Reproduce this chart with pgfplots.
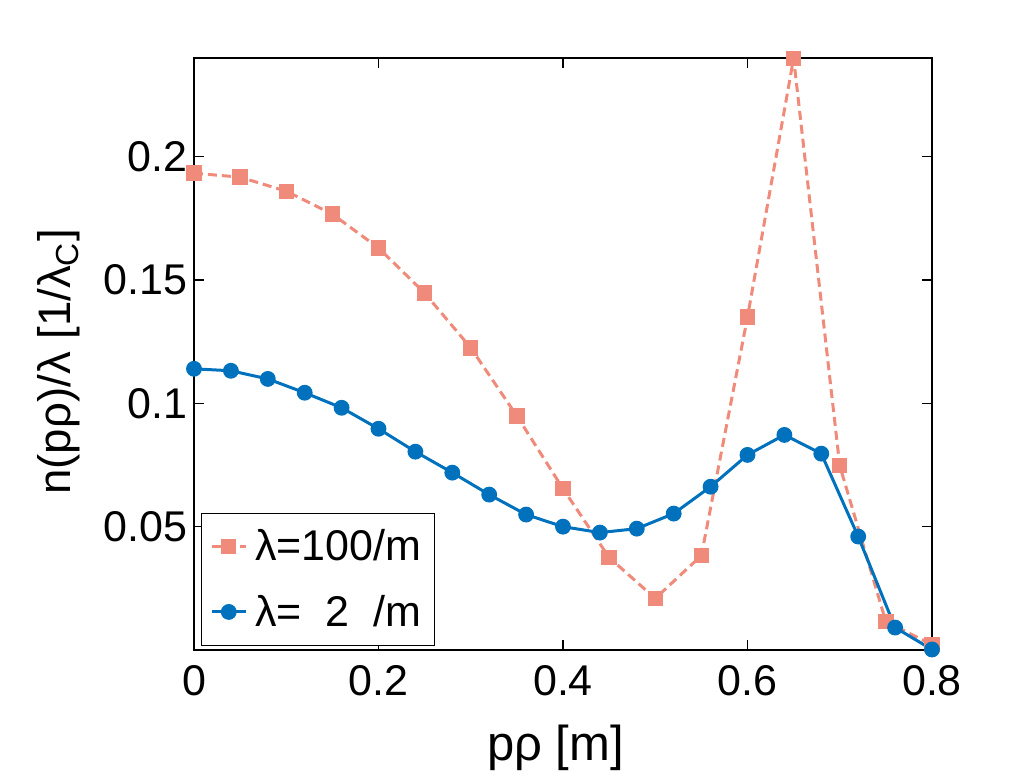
\documentclass[border=0pt]{standalone}
\usepackage{fontspec}
\setmainfont{Liberation Sans}
\usepackage{pgfplots}
\pgfplotsset{compat=1.18}
\definecolor{myred}{RGB}{240,138,122}
\definecolor{myblue}{RGB}{0,114,189}
\newcommand{\bigf}{\fontsize{21.5}{26}\selectfont}
\begin{document}
\begin{tikzpicture}
\begin{axis}[
  scale only axis, width=369pt, height=296pt,
  xmin=0, xmax=0.8, ymin=0, ymax=0.24,
  xtick={0,0.2,0.4,0.6,0.8}, ytick={0.05,0.1,0.15,0.2},
  tick align=inside, major tick length=5pt,
  axis line style={line width=0.6pt}, tick style={line width=0.6pt, black},
  /pgf/number format/assume math mode=true,
  /pgf/number format/fixed, /pgf/number format/precision=2,
  scaled y ticks=false, scaled x ticks=false,
  tick label style={font=\bigf},
  xticklabel style={yshift=-4pt},
  xlabel={pρ [m]},
  ylabel={n(pρ)/λ [1/λ\textsubscript{C}]},
  xlabel style={font=\fontsize{24.5}{29}\selectfont, at={(axis description cs:0.49,-0.186)}, anchor=base},
  ylabel style={font=\fontsize{22.8}{27}\selectfont, at={(axis description cs:-0.168,0.4865)}, anchor=base},
  legend style={font=\bigf, at={(0,0)}, anchor=south west, xshift=3.3pt, yshift=2pt,
    draw=black, line width=0.6pt, inner xsep=4.5pt, inner ysep=6.2pt, row sep=11.5pt, column sep=2pt, cells={anchor=west}},
  legend cell align=left,
]
\addplot[color=myred, line width=1.5pt, dash pattern=on 4.5pt off 2.5pt, mark=square*, mark size=3.1pt, mark options={solid, fill=myred}]
coordinates {
(0,0.1933) (0.05,0.1917) (0.1,0.186) (0.15,0.1767) (0.2,0.163) (0.25,0.1447)
(0.3,0.1225) (0.35,0.0949) (0.4,0.0654) (0.45,0.0375) (0.5,0.0209) (0.55,0.0383)
(0.6,0.135) (0.65,0.2399) (0.7,0.0747) (0.75,0.0115) (0.8,0.0022)
};
\addlegendentry{λ=100/m}
\addplot[color=myblue, line width=1.5pt, mark=*, mark size=3.2pt, mark options={fill=myblue}]
coordinates {
(0,0.114) (0.04,0.1132) (0.08,0.1099) (0.12,0.1043) (0.16,0.0982) (0.2,0.0897)
(0.24,0.0804) (0.28,0.0719) (0.32,0.063) (0.36,0.0549) (0.4,0.05) (0.44,0.0476)
(0.48,0.0492) (0.52,0.0553) (0.56,0.0662) (0.6,0.0791) (0.64,0.0872) (0.68,0.0796)
(0.72,0.046) (0.76,0.0091) (0.8,0.0002)
};
\addlegendentry{λ=\ \ 2\ \ /m}
\end{axis}
\pgfresetboundingbox
\path[use as bounding box] ([xshift=-97pt,yshift=-60.5pt]current axis.south west) rectangle ([xshift=47pt,yshift=29pt]current axis.north east);
\end{tikzpicture}
\end{document}
